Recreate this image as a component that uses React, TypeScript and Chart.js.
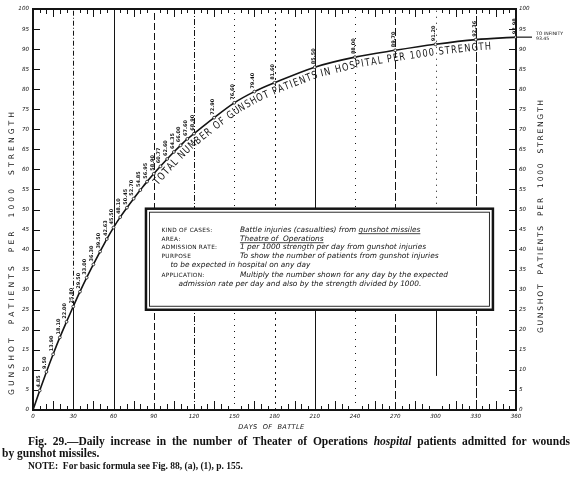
import React, { useEffect, useRef } from "react";
import { Chart, registerables } from "chart.js";

Chart.register(...registerables);

// Days of battle at which the hospital load is tabulated
const battleDays = [
  0, 5, 10, 15, 20, 25, 30, 35, 40, 45, 50, 55, 60, 65, 70, 75, 80, 85, 90, 95,
  100, 105, 110, 115, 120, 135, 150, 165, 180, 210, 240, 270, 300, 330, 360,
];
// Gunshot patients in hospital per 1000 strength on each of those days
const patientsPer1000 = [
  0, 4.85, 9.5, 13.9, 18.1, 22.0, 25.8, 29.5, 33.0, 36.3, 39.5, 42.63,
  45.5, 48.1, 50.45, 52.7, 54.85, 56.95, 58.9, 60.77, 62.6, 64.35, 66.0, 67.6,
  68.9, 72.9, 76.6, 79.4, 81.6, 85.5, 88.0, 89.7, 91.2, 92.36, 92.98,
];
const dayTicks = [0, 30, 60, 90, 120, 150, 180, 210, 240, 270, 300, 330, 360];
const rateTicks = [
  0, 5, 10, 15, 20, 25, 30, 35, 40, 45, 50, 55, 60, 65, 70, 75, 80, 85, 90, 95, 100,
];
const limitNote = ["TO INFINITY", "93.45"];
const curveTitle = "TOTAL NUMBER OF GUNSHOT PATIENTS IN HOSPITAL PER 1000 STRENGTH";
const yTitle = "GUNSHOT  PATIENTS  PER  1000  STRENGTH";
const xTitle = "DAYS  OF  BATTLE";
const boxLabels = ["KIND OF CASES:", "AREA:", "ADMISSION RATE:", "PURPOSE", "", "APPLICATION:", ""];
const boxTexts = [
  "Battle injuries (casualties) from gunshot missiles",
  "Theatre of  Operations",
  "1 per 1000 strength per day from gunshot injuries",
  "To show the number of patients from gunshot injuries",
  "to be expected in hospital on any day",
  "Multiply the number shown for any day by the expected",
  "admission rate per day and also by the strength divided by 1000.",
];
const boxUnderlined = ["gunshot missiles", "Theatre of  Operations", "", "", "", "", ""];

const INK = "#141414";
const HAND = '"DejaVu Sans", "Liberation Sans", sans-serif';

// dash pattern of each 30-day ruling, split into [fromValue, toValue, dash]
const rulings: Record<number, Array<[number, number, number[]]>> = {
  30: [[0, 26, []], [26, 100, [5, 2, 1, 2]]],
  60: [[0, 100, []]],
  90: [[0, 100, [7, 3]]],
  120: [[0, 100, [6, 2, 1, 2]]],
  150: [[0, 100, [1, 5]]],
  180: [[0, 100, [2, 4]]],
  210: [[0, 100, []]],
  240: [[0, 100, [1, 6]]],
  270: [[0, 100, [8, 3]]],
  300: [[8.5, 26, []], [26, 100, [1, 5]]],
  330: [[0, 100, [10, 2]]],
};

function curvePoints(chart: any) {
  const meta = chart.getDatasetMeta(0);
  return meta.data.map((p: any) => ({ x: p.x, y: p.y }));
}

function drawSpaced(ctx: CanvasRenderingContext2D, text: string, x: number, y: number, length: number) {
  const widths = Array.from(text).map((c) => ctx.measureText(c).width);
  const total = widths.reduce((a, b) => a + b, 0);
  const gap = text.length > 1 ? (length - total) / (text.length - 1) : 0;
  let cx = x;
  Array.from(text).forEach((c, i) => {
    ctx.fillText(c, cx, y);
    cx += widths[i] + gap;
  });
}

const figurePlugin = {
  id: "figure",
  beforeDatasetsDraw(chart: any) {
    const { ctx, chartArea: a, scales } = chart;
    const x = scales.x;
    const y = scales.y;
    ctx.save();
    ctx.strokeStyle = INK;
    ctx.fillStyle = INK;

    // vertical rulings every 30 days
    ctx.lineWidth = 1;
    for (const d of dayTicks.slice(1, -1)) {
      const px = Math.round(x.getPixelForValue(d)) + 0.5;
      for (const [from, to, dash] of rulings[d] || [[0, 100, []]]) {
        ctx.beginPath();
        ctx.setLineDash(dash);
        ctx.moveTo(px, y.getPixelForValue(from));
        ctx.lineTo(px, y.getPixelForValue(to));
        ctx.stroke();
      }
    }
    ctx.setLineDash([]);

    // minor day ticks along top and bottom edges
    for (let d = 5; d < 360; d += 5) {
      if (d % 30 === 0) continue;
      const px = Math.round(x.getPixelForValue(d)) + 0.5;
      const lenB = d % 15 === 0 ? 9 : d % 10 === 0 ? 6 : 4;
      const lenT = d % 15 === 0 ? 8 : d % 10 === 0 ? 5 : 4;
      ctx.beginPath();
      ctx.moveTo(px, a.bottom);
      ctx.lineTo(px, a.bottom - lenB);
      ctx.moveTo(px, a.top);
      ctx.lineTo(px, a.top + lenT);
      ctx.stroke();
    }

    // inward ticks on both value axes
    ctx.lineWidth = 1.2;
    for (const v of rateTicks) {
      const py = Math.round(y.getPixelForValue(v)) + 0.5;
      ctx.beginPath();
      ctx.moveTo(a.left, py);
      ctx.lineTo(a.left + 7, py);
      ctx.moveTo(a.right - 7, py);
      ctx.lineTo(a.right, py);
      ctx.stroke();
    }

    // frame
    ctx.lineWidth = 2;
    ctx.strokeRect(a.left, a.top, a.right - a.left, a.bottom - a.top);

    // explanatory box
    const bl = x.getPixelForValue(84.2);
    const br = x.getPixelForValue(342.8);
    const bt = y.getPixelForValue(50.2);
    const bb = y.getPixelForValue(25);
    ctx.fillStyle = "#fff";
    ctx.fillRect(bl, bt, br - bl, bb - bt);
    ctx.lineWidth = 2.5;
    ctx.strokeRect(bl, bt, br - bl, bb - bt);
    ctx.lineWidth = 0.9;
    ctx.strokeRect(bl + 3.5, bt + 3.5, br - bl - 7, bb - bt - 7);

    ctx.fillStyle = INK;
    ctx.textBaseline = "alphabetic";
    ctx.textAlign = "left";
    const rowY = [23, 32, 40.5, 49, 58, 68.5, 77.5];
    const indent = [0, 0, 0, 0, 9, 0, 17];
    boxTexts.forEach((t, i) => {
      const ty = bt + rowY[i];
      if (boxLabels[i]) {
        ctx.font = `5.8px ${HAND}`;
        drawSpaced(ctx, boxLabels[i], bl + 15.5, ty, ctx.measureText(boxLabels[i]).width * 1.08);
      }
      ctx.font = `italic 7.4px ${HAND}`;
      const tx = boxLabels[i] ? bl + 94 : bl + 15.5 + indent[i];
      ctx.fillText(t, tx, ty);
      const u = boxUnderlined[i];
      if (u) {
        const start = tx + ctx.measureText(t.slice(0, t.indexOf(u))).width;
        const w = ctx.measureText(u).width;
        ctx.lineWidth = 0.8;
        ctx.beginPath();
        ctx.moveTo(start, ty + 2);
        ctx.lineTo(start + w, ty + 2);
        ctx.stroke();
      }
    });
    ctx.restore();
  },
  afterDatasetsDraw(chart: any) {
    const { ctx, chartArea: a, scales } = chart;
    const x = scales.x;
    const pts = curvePoints(chart);
    ctx.save();
    ctx.fillStyle = INK;
    ctx.strokeStyle = INK;

    // value written beside each tabulated point
    ctx.font = `bold 5px ${HAND}`;
    ctx.textAlign = "left";
    ctx.textBaseline = "middle";
    patientsPer1000.forEach((v, i) => {
      if (i === 0) return;
      const p = pts[i];
      ctx.save();
      ctx.translate(p.x - 1.5, p.y - 3);
      ctx.rotate(-Math.PI / 2);
      ctx.fillText(v.toFixed(2), 0, 0);
      ctx.restore();
    });

    // lettering that follows the curve
    const startX = x.getPixelForValue(87);
    const endX = x.getPixelForValue(341);
    const seg: Array<{ x: number; y: number; s: number }> = [];
    let acc = 0;
    for (let i = 0; i < pts.length; i++) {
      if (i > 0) acc += Math.hypot(pts[i].x - pts[i - 1].x, pts[i].y - pts[i - 1].y);
      seg.push({ x: pts[i].x, y: pts[i].y, s: acc });
    }
    const arcAtX = (px: number) => {
      for (let i = 1; i < seg.length; i++) {
        if (seg[i].x >= px) {
          const t = (px - seg[i - 1].x) / (seg[i].x - seg[i - 1].x);
          return seg[i - 1].s + t * (seg[i].s - seg[i - 1].s);
        }
      }
      return acc;
    };
    const pointAt = (s: number) => {
      for (let i = 1; i < seg.length; i++) {
        if (seg[i].s >= s) {
          const t = (s - seg[i - 1].s) / (seg[i].s - seg[i - 1].s);
          const dx = seg[i].x - seg[i - 1].x;
          const dy = seg[i].y - seg[i - 1].y;
          const len = Math.hypot(dx, dy);
          return { x: seg[i - 1].x + t * dx, y: seg[i - 1].y + t * dy, tx: dx / len, ty: dy / len };
        }
      }
      return { x: seg[seg.length - 1].x, y: seg[seg.length - 1].y, tx: 1, ty: 0 };
    };
    const squeeze = 0.78;
    ctx.font = `10.5px ${HAND}`;
    ctx.textAlign = "center";
    ctx.textBaseline = "middle";
    const s0 = arcAtX(startX);
    const s1 = arcAtX(endX);
    const chars = Array.from(curveTitle);
    const widths = chars.map((c) => ctx.measureText(c).width * squeeze);
    const total = widths.reduce((p, q) => p + q, 0);
    const gap = (s1 - s0 - total) / (chars.length - 1);
    let s = s0;
    chars.forEach((c, i) => {
      const mid = s + widths[i] / 2;
      const p = pointAt(mid);
      ctx.save();
      ctx.translate(p.x - p.ty * 8, p.y + p.tx * 8);
      ctx.rotate(Math.atan2(p.ty, p.tx));
      ctx.scale(squeeze, 1);
      ctx.fillText(c, 0, 0);
      ctx.restore();
      s += widths[i] + gap;
    });

    // asymptote note at the right edge
    const last = pts[pts.length - 1];
    ctx.lineWidth = 1.2;
    ctx.beginPath();
    ctx.moveTo(a.right, last.y);
    ctx.lineTo(a.right + 16, last.y);
    ctx.stroke();
    ctx.font = `4.6px ${HAND}`;
    ctx.textAlign = "left";
    ctx.textBaseline = "middle";
    ctx.fillText(limitNote[0], a.right + 20, last.y - 3);
    ctx.fillText(limitNote[1], a.right + 20, last.y + 2);

    // axis titles
    ctx.font = `7.6px ${HAND}`;
    ctx.textBaseline = "middle";
    ctx.textAlign = "left";
    ctx.save();
    ctx.translate(12, 395);
    ctx.rotate(-Math.PI / 2);
    drawSpaced(ctx, yTitle, 0, 0, 283);
    ctx.restore();
    ctx.save();
    ctx.translate(541, 333);
    ctx.rotate(-Math.PI / 2);
    drawSpaced(ctx, yTitle, 0, 0, 233);
    ctx.restore();
    ctx.font = `italic 6.6px ${HAND}`;
    drawSpaced(ctx, xTitle, x.getPixelForValue(153), a.bottom + 17, 66);
    ctx.restore();
  },
};

export default function App() {
  const canvasRef = useRef<HTMLCanvasElement | null>(null);

  useEffect(() => {
    const canvas = canvasRef.current;
    if (!canvas) return;
    const tickFont = { family: HAND, size: 5.6, style: "italic" as const };
    const chart = new Chart(canvas, {
      type: "line",
      data: {
        labels: battleDays,
        datasets: [
          {
            data: battleDays.map((d, i) => ({ x: d, y: patientsPer1000[i] })),
            borderColor: INK,
            borderWidth: 1.6,
            cubicInterpolationMode: "monotone",
            pointRadius: (c: any) => (c.dataIndex === 0 ? 0 : 1.4),
            pointBackgroundColor: "#fff",
            pointBorderColor: INK,
            pointBorderWidth: 0.8,
            fill: false,
          },
        ],
      },
      options: {
        responsive: false,
        animation: false,
        devicePixelRatio: 1,
        layout: { padding: { top: 9, left: 0, right: 0, bottom: 51 } },
        plugins: { legend: { display: false }, tooltip: { enabled: false } },
        scales: {
          x: {
            type: "linear",
            min: 0,
            max: 360,
            afterBuildTicks: (s: any) => {
              s.ticks = dayTicks.map((v) => ({ value: v }));
            },
            afterFit: (s: any) => {
              s.height = 16;
            },
            grid: { display: false, drawTicks: false },
            border: { display: false },
            ticks: { font: tickFont, color: INK, padding: 3, maxRotation: 0, autoSkip: false },
          },
          y: {
            type: "linear",
            position: "left",
            min: 0,
            max: 100,
            afterBuildTicks: (s: any) => {
              s.ticks = rateTicks.map((v) => ({ value: v }));
            },
            afterFit: (s: any) => {
              s.width = 33;
            },
            grid: { display: false, drawTicks: false },
            border: { display: false },
            ticks: { font: tickFont, color: INK, padding: 4, autoSkip: false },
          },
          y2: {
            type: "linear",
            position: "right",
            min: 0,
            max: 100,
            afterBuildTicks: (s: any) => {
              s.ticks = rateTicks.map((v) => ({ value: v }));
            },
            afterFit: (s: any) => {
              s.width = 60;
            },
            grid: { display: false, drawTicks: false },
            border: { display: false },
            ticks: { font: tickFont, color: INK, padding: 3, autoSkip: false },
          },
        },
      },
      plugins: [figurePlugin],
    });
    return () => chart.destroy();
  }, []);

  const line: React.CSSProperties = {
    position: "absolute",
    whiteSpace: "nowrap",
    fontFamily: '"Liberation Serif", "DejaVu Serif", serif',
    fontWeight: "bold",
    fontSize: "11.5px",
    color: "#111",
    lineHeight: "12px",
  };

  return (
    <div style={{ position: "absolute", left: 0, top: 0, width: 576, height: 477, background: "#fff", overflow: "hidden" }}>
      <canvas ref={canvasRef} width={576} height={477} style={{ position: "absolute", left: 0, top: 0 }} />
      <div
        style={{
          ...line,
          left: 28,
          top: 435,
          width: 542,
          whiteSpace: "normal",
          textAlign: "justify",
          textAlignLast: "justify",
        }}
      >
        Fig. 29.—Daily increase in the number of Theater of Operations <i>hospital</i> patients admitted for wounds
      </div>
      <div style={{ ...line, left: 2, top: 447 }}>by gunshot missiles.</div>
      <div style={{ ...line, left: 28, top: 460, fontSize: "9.5px" }}>
        NOTE:&nbsp;&nbsp;For basic formula see Fig. 88, (a), (1), p. 155.
      </div>
    </div>
  );
}
